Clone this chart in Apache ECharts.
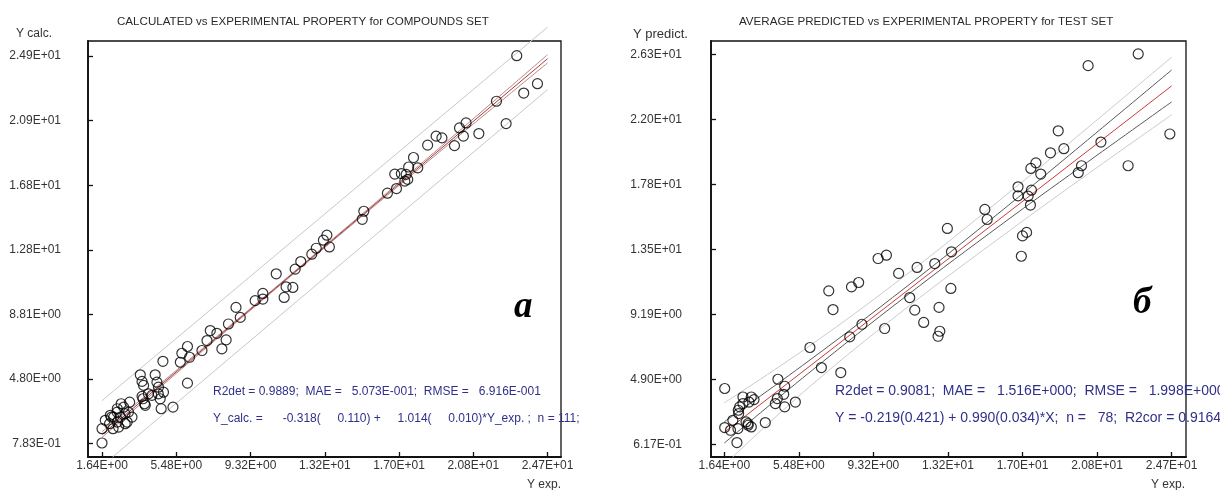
<!DOCTYPE html>
<html><head><meta charset="utf-8">
<script src="https://cdn.jsdelivr.net/npm/echarts@6/dist/echarts.min.js"></script>
<style>html,body{margin:0;padding:0;background:#fff}#c{width:1220px;height:490px}</style>
</head><body><div id="c"></div>
<script>
// ---- tick values and labels ----
const xTickValues = [1.64, 5.48, 9.32, 13.16, 17.0, 20.84, 24.68];
const xTickLabels = ['1.64E+00','5.48E+00','9.32E+00','1.32E+01','1.70E+01','2.08E+01','2.47E+01'];
const yTickValuesA = [0.783, 4.7995, 8.816, 12.8325, 16.849, 20.8655, 24.882];
const yTickLabelsA = ['7.83E-01','4.80E+00','8.81E+00','1.28E+01','1.68E+01','2.09E+01','2.49E+01'];
const yTickValuesB = [0.617, 4.897, 9.177, 13.457, 17.737, 22.017, 26.297];
const yTickLabelsB = ['6.17E-01','4.90E+00','9.19E+00','1.35E+01','1.78E+01','2.20E+01','2.63E+01'];

// ---- panel a: calculated vs experimental (x = Y exp., y = Y calc.) ----
const pointsA = [
 [1.64,0.82],[1.64,1.71],[1.81,2.23],[2.03,2.02],[2.24,2.43],[2.07,2.54],[2.13,2.43],[2.59,2.43],
 [2.43,2.95],[2.63,3.26],[2.76,3.05],[3.07,3.36],[3.01,2.74],[2.83,2.64],[2.84,2.02],[2.50,1.81],
 [2.21,1.71],[2.43,2.12],[2.94,2.12],[3.19,2.43],[2.42,2.74],
 [3.62,5.06],[3.71,4.65],[3.79,4.40],[3.71,3.72],[3.88,3.16],[3.76,3.57],[3.84,3.26],[4.04,3.88],
 [4.39,5.06],[4.48,4.60],[4.56,4.29],[4.55,3.88],[4.65,3.57],[4.70,2.95],[4.22,3.78],[4.82,3.98],
 [5.31,3.05],[4.79,5.90],[6.06,4.54],[5.69,5.84],[5.77,6.40],[6.06,6.82],[6.17,6.15],[6.81,6.57],
 [7.07,7.19],[7.24,7.81],[7.58,7.64],[7.84,6.67],[8.06,7.23],[8.18,8.22],[8.57,9.25],[8.79,8.63],
 [9.56,9.67],[9.96,10.12],[9.96,9.77],[10.65,11.34],[11.06,9.87],[11.51,10.49],[11.16,10.53],
 [11.63,11.63],[11.92,12.10],[12.49,12.56],[12.72,12.93],[13.09,13.43],[13.27,13.74],[13.40,13.01],
 [15.18,15.23],[15.10,14.73],[16.40,16.35],[16.87,16.64],[16.78,17.54],[17.12,17.57],[17.30,17.10],
 [17.45,17.21],[17.37,17.52],[17.50,17.98],[17.97,17.93],[17.75,18.57],[18.48,19.34],[18.92,19.90],
 [19.22,19.79],[19.87,19.31],[20.33,19.90],[20.13,20.41],[20.47,20.72],[21.13,20.06],[22.04,22.07],
 [22.54,20.68],[23.09,24.90],[23.45,22.58],[24.16,23.16]
];
const regLineA = [[1.64,1.345],[24.68,24.71]];
const confUpperA = [[1.64,1.52],[6,5.85],[12,11.90],[18,18.04],[24.68,24.96]];
const confLowerA = [[1.64,1.17],[6,5.68],[12,11.80],[18,17.83],[24.68,24.45]];
const predUpperA = [[1.64,3.45],[24.68,26.67]];
const predLowerA = [[2.19,-0.05],[24.68,22.79]];

// ---- panel b: average predicted vs experimental, test set ----
const pointsB = [
 [1.66,4.29],[2.29,0.73],[1.66,1.72],[1.96,1.54],[2.34,1.65],[2.08,2.20],[2.38,2.64],[2.60,3.73],
 [2.60,3.30],[2.86,1.98],[3.03,1.76],[3.03,3.73],[2.91,3.40],[2.43,3.08],[3.75,2.05],[3.17,3.56],
 [2.76,2.09],[2.87,1.87],[2.36,2.86],[4.40,4.90],[4.75,4.44],[4.70,3.91],[4.27,3.30],[4.75,3.08],
 [5.30,3.40],[4.37,3.63],[6.05,6.99],[6.64,5.67],[7.64,5.34],[7.02,10.72],[7.24,9.49],[8.19,10.98],
 [8.56,11.27],[8.10,7.69],[8.73,8.52],[9.90,8.24],[9.56,12.85],[9.99,13.07],[10.62,11.87],[11.57,12.26],
 [11.19,10.28],[11.45,9.45],[11.91,8.64],[12.48,12.52],[12.70,9.63],[12.74,8.06],[12.65,7.73],
 [13.31,10.88],[13.34,13.29],[16.94,13.0],[13.13,14.83],[15.06,16.08],[15.18,15.42],[17.21,14.57],
 [17.00,14.34],[16.77,17.57],[16.77,16.98],[17.46,17.35],[17.29,16.96],[17.41,16.37],[17.69,19.15],
 [17.43,18.78],[17.94,18.41],[18.44,19.81],[19.13,20.08],[18.84,21.26],[20.04,18.96],[19.87,18.50],
 [21.04,20.52],[22.44,18.96],[24.59,21.05],[20.38,25.55],[22.96,26.32]
];
const regLineB = [[1.64,1.405],[24.68,24.214]];
const confUpperB = [[1.64,2.10],[6,6.12],[11,10.97],[16,16.07],[20,20.28],[24.68,25.26]];
const confLowerB = [[1.64,0.70],[6,5.32],[11,10.37],[16,15.17],[20,18.88],[24.68,23.16]];
const predUpperB = [[1.64,3.35],[6,7.07],[11,11.77],[16,16.87],[20,21.08],[24.68,26.11]];
const predLowerB = [[2.07,-0.22],[6,4.37],[11,9.57],[16,14.37],[20,18.08],[24.68,22.31]];

function fmt(vals, labels) {
  return function (v) {
    let best = 0, d = Infinity;
    vals.forEach((t, i) => { const dd = Math.abs(t - v); if (dd < d) { d = dd; best = i; } });
    return labels[best];
  };
}
const FONT = 'Liberation Sans, Arial, sans-serif';
function xAxis(gi, min, max) {
  return {
    type: 'value', gridIndex: gi, min: min, max: max,
    splitLine: { show: false },
    axisLine: { show: true, onZero: false, lineStyle: { color: '#111', width: 1.8 } },
    axisTick: { show: true, inside: true, length: 5, customValues: xTickValues, lineStyle: { color: '#111', width: 1.3 } },
    axisLabel: { customValues: xTickValues, formatter: fmt(xTickValues, xTickLabels), margin: 3,
      fontSize: 12, color: '#333', fontFamily: FONT }
  };
}
function yAxis(gi, min, max, vals, labels, margin) {
  return {
    type: 'value', gridIndex: gi, min: min, max: max,
    splitLine: { show: false },
    axisLine: { show: true, onZero: false, lineStyle: { color: '#111', width: 1.8 } },
    axisTick: { show: true, inside: true, length: 5, customValues: vals, lineStyle: { color: '#111', width: 1.3 } },
    axisLabel: { customValues: vals, formatter: fmt(vals, labels), margin: margin,
      fontSize: 12, color: '#333', fontFamily: FONT }
  };
}
function line(data, color, xi, smooth) {
  return { type: 'line', data: data, xAxisIndex: xi, yAxisIndex: xi, showSymbol: false, symbol: 'none',
    clip: false, silent: true, smooth: smooth ? 0.4 : false, z: 2,
    lineStyle: { color: color, width: 1 } };
}
function scatter(data, xi) {
  return { type: 'scatter', data: data, xAxisIndex: xi, yAxisIndex: xi, symbol: 'circle', symbolSize: 10,
    z: 3, silent: true,
    itemStyle: { color: 'rgba(255,255,255,0)', borderColor: '#000', borderWidth: 1.2 } };
}
function txt(left, top, text, size, color, extra) {
  return Object.assign({ type: 'text', left: left, top: top, silent: true,
    style: Object.assign({ text: text, fontSize: size, fill: color, fontFamily: FONT }, extra || {}) });
}

const chart = echarts.init(document.getElementById('c'), null, { renderer: 'canvas' });
chart.setOption({
  animation: false,
  backgroundColor: '#fff',
  grid: [
    { left: 88, top: 41, width: 473, height: 416, show: true, borderColor: '#111', borderWidth: 1.3, containLabel: false },
    { left: 711, top: 41, width: 475, height: 416, show: true, borderColor: '#111', borderWidth: 1.3, containLabel: false }
  ],
  xAxis: [xAxis(0, 0.916, 25.378), xAxis(1, 0.954, 25.422)],
  yAxis: [yAxis(0, -0.051, 25.815, yTickValuesA, yTickLabelsA, 27), yAxis(1, -0.22, 27.173, yTickValuesB, yTickLabelsB, 29)],
  series: [
    line(predUpperA, '#c8c8c8', 0, false), line(predLowerA, '#c8c8c8', 0, false),
    line(confUpperA, '#b08888', 0, true), line(confLowerA, '#b08888', 0, true),
    line(regLineA, '#b03838', 0, false),
    scatter(pointsA, 0),
    line(predUpperB, '#cbcbcb', 1, true), line(predLowerB, '#cbcbcb', 1, true),
    line(confUpperB, '#5a5a5a', 1, true), line(confLowerB, '#5a5a5a', 1, true),
    line(regLineB, '#d03a3a', 1, false),
    scatter(pointsB, 1)
  ],
  graphic: [
    txt(117, 16, 'CALCULATED vs EXPERIMENTAL PROPERTY for COMPOUNDS SET', 11.6, '#2a2a2a'),
    txt(739, 16, 'AVERAGE PREDICTED vs EXPERIMENTAL PROPERTY for TEST SET', 11.6, '#2a2a2a'),
    txt(16, 28, 'Y calc.', 12, '#333'),
    txt(633, 28, 'Y predict.', 13, '#333'),
    txt(527, 479, 'Y exp.', 12, '#333'),
    txt(1151, 479, 'Y exp.', 12, '#333'),
    txt(213, 386, 'R2det = 0.9889;  MAE =   5.073E-001;  RMSE =   6.916E-001', 12, '#30308a'),
    txt(213, 413, 'Y_calc. =      -0.318(     0.110) +     1.014(     0.010)*Y_exp. ;  n = 111;', 12, '#30308a'),
    txt(835, 384, 'R2det = 0.9081;  MAE =   1.516E+000;  RMSE =   1.998E+000', 14, '#30308a'),
    txt(835, 411, 'Y = -0.219(0.421) + 0.990(0.034)*X;  n =   78;  R2cor = 0.9164;', 14, '#30308a'),
    txt(514, 289, 'а', 37, '#000', { fontFamily: 'Liberation Serif, Times New Roman, serif', fontStyle: 'italic', fontWeight: 'bold' }),
    txt(1133, 285, 'б', 37, '#000', { fontFamily: 'Liberation Serif, Times New Roman, serif', fontStyle: 'italic', fontWeight: 'bold' })
  ]
});
</script>
</body></html>
